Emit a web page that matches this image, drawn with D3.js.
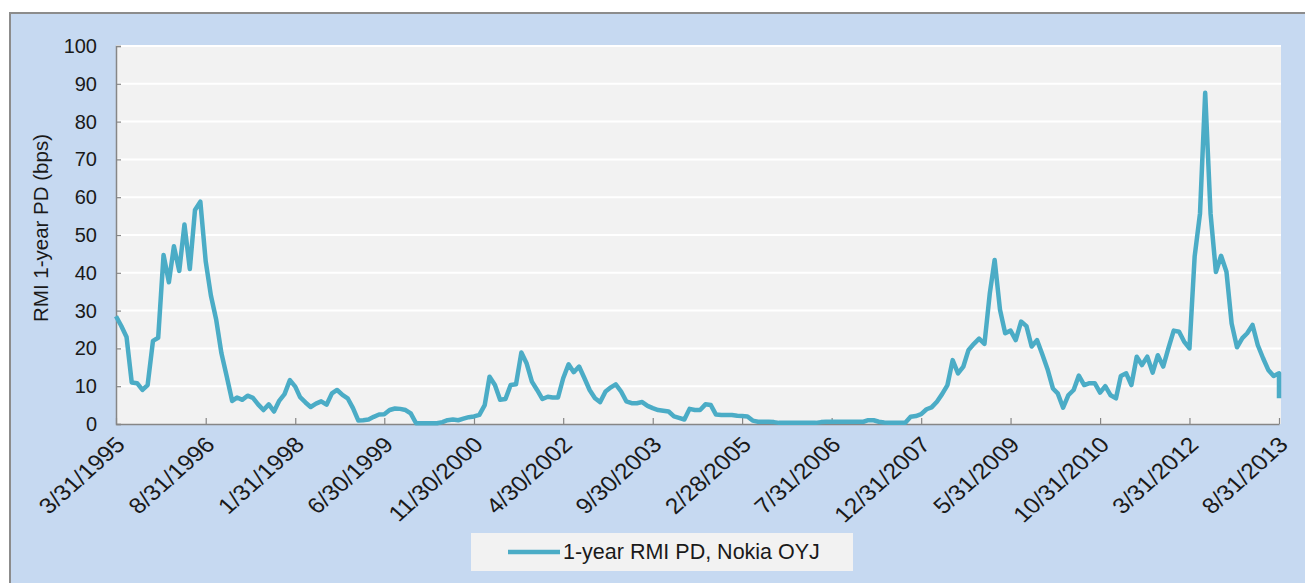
<!DOCTYPE html>
<html>
<head>
<meta charset="utf-8">
<script src="https://cdn.jsdelivr.net/npm/d3@7"></script>
<style>
  body { margin: 0; background: #fff; }
  svg { display: block; font-family: "Liberation Sans", Arial, sans-serif; }
</style>
</head>
<body>
<div id="chart"></div>
<script>
// month-end observations, 3/31/1995 .. 8/31/2013 (the last date appears twice in the source)
const startYear = 1995
const startMonth = 3
const monthCount = 222

// 1-year RMI PD in bps, one per month, plus the final extra observation
const pdValues = [
  28.5, 26, 23, 11, 10.8, 9, 10.3, 22, 22.8, 44.7,
  37.5, 47, 40.5, 52.8, 41, 56.6, 58.8, 43, 34, 27.5,
  18.7, 12.5, 6.1, 7, 6.4, 7.5, 6.9, 5.2, 3.7, 5.2,
  3.3, 6.2, 7.9, 11.6, 9.9, 7.1, 5.7, 4.5, 5.4, 6,
  5.1, 8.1, 9, 7.7, 6.8, 4.2, 0.9, 1, 1.2, 1.9,
  2.5, 2.6, 3.7, 4.1, 4, 3.7, 2.8, 0.2, 0.2, 0.2,
  0.2, 0.2, 0.5, 1, 1.2, 1, 1.4, 1.8, 2, 2.4,
  5, 12.5, 10.3, 6.4, 6.6, 10.3, 10.5, 18.9, 16.1, 11.2,
  9, 6.6, 7.2, 7, 7, 12.1, 15.8, 13.7, 15.2, 12.1,
  9, 6.8, 5.8, 8.6, 9.7, 10.5, 8.6, 6, 5.5, 5.5,
  5.8, 4.8, 4.2, 3.7, 3.5, 3.3, 2, 1.6, 1.2, 4,
  3.7, 3.7, 5.2, 5, 2.5, 2.4, 2.4, 2.4, 2.2, 2.1,
  2, 0.9, 0.6, 0.6, 0.6, 0.5, 0.3, 0.3, 0.3, 0.3,
  0.3, 0.3, 0.3, 0.3, 0.5, 0.6, 0.6, 0.6, 0.6, 0.6,
  0.6, 0.6, 0.6, 1, 1, 0.6, 0.4, 0.3, 0.3, 0.3,
  0.3, 1.9, 2.1, 2.6, 3.9, 4.4, 5.9, 7.9, 10.3, 16.9,
  13.4, 15.2, 19.6, 21.2, 22.6, 21.2, 34.6, 43.4, 30.2, 24,
  24.7, 22.2, 27.1, 25.9, 20.5, 22.2, 18.5, 14.5, 9.4, 8.1,
  4.3, 7.6, 9, 12.8, 10.3, 10.8, 10.8, 8.3, 10, 7.6,
  6.8, 12.7, 13.4, 10.3, 17.8, 15.6, 17.8, 13.6, 18.2, 15.2,
  20, 24.7, 24.4, 21.8, 20, 44.3, 55.7, 87.6, 55.7, 40.2,
  44.5, 40.3, 26.6, 20.3, 22.7, 24, 26.2, 20.9, 17.4, 14.3,
  12.7, 13.4, 6.8
]

const xTickLabels = [
  '3/31/1995', '8/31/1996', '1/31/1998', '6/30/1999', '11/30/2000',
  '4/30/2002', '9/30/2003', '2/28/2005', '7/31/2006', '12/31/2007',
  '5/31/2009', '10/31/2010', '3/31/2012', '8/31/2013'
]
const yTicks = [0, 10, 20, 30, 40, 50, 60, 70, 80, 90, 100]
const seriesName = '1-year RMI PD, Nokia OYJ'
const yTitle = 'RMI 1-year PD (bps)'

// month-end dates; the extra final value sits on the last date
const dates = d3.range(monthCount).map(k => new Date(startYear, startMonth + k, 0))
dates.push(dates[dates.length - 1])
const data = pdValues.map((v, i) => ({ date: dates[i], value: v }))

const parse = d3.timeParse('%m/%d/%Y')
const tickDates = xTickLabels.map(parse)

const W = 1305, H = 583
const plot = { left: 116, right: 1279, top: 46, bottom: 424 }

const svg = d3.select('#chart').append('svg')
  .attr('width', W)
  .attr('height', H)

// chart area background
svg.append('rect')
  .attr('x', 10).attr('y', 13)
  .attr('width', W + 10).attr('height', H + 10)
  .attr('fill', '#c6d9f1')
  .attr('stroke', '#8c8c8c')
  .attr('stroke-width', 2)

// plot area
svg.append('rect')
  .attr('x', plot.left).attr('y', plot.top)
  .attr('width', plot.right - plot.left + 2)
  .attr('height', plot.bottom - plot.top)
  .attr('fill', '#f2f2f2')

const x = d3.scaleTime()
  .domain([tickDates[0], tickDates[tickDates.length - 1]])
  .range([plot.left, plot.right])

const y = d3.scaleLinear()
  .domain([0, 100])
  .range([plot.bottom, plot.top])

// gridlines
svg.append('g')
  .selectAll('line')
  .data(yTicks.filter(d => d > 0))
  .join('line')
    .attr('x1', plot.left).attr('x2', plot.right + 2)
    .attr('y1', d => y(d)).attr('y2', d => y(d))
    .attr('stroke', '#ffffff')
    .attr('stroke-width', 2)

// y axis
const yAxis = svg.append('g')
  .attr('transform', `translate(${plot.left},0)`)
  .call(d3.axisLeft(y).tickValues(yTicks).tickSize(-5).tickPadding(19))
yAxis.select('.domain').attr('stroke', '#868686').attr('stroke-width', 1.5)
yAxis.selectAll('.tick line').attr('stroke', '#868686').attr('stroke-width', 1.2)
yAxis.selectAll('.tick text')
  .attr('font-size', 20)
  .attr('fill', '#1a1a1a')

// x axis
const xAxis = svg.append('g')
  .attr('transform', `translate(0,${plot.bottom})`)
  .call(d3.axisBottom(x)
    .tickValues(tickDates)
    .tickFormat((d, i) => xTickLabels[i])
    .tickSize(-6)
    .tickSizeOuter(0))
xAxis.select('.domain').attr('stroke', '#868686').attr('stroke-width', 1.5)
xAxis.selectAll('.tick line').attr('stroke', '#868686').attr('stroke-width', 1.2)
xAxis.selectAll('.tick text')
  .attr('font-size', 22)
  .attr('fill', '#1a1a1a')
  .attr('text-anchor', 'end')
  .attr('dy', null)
  .attr('y', 0)
  .attr('transform', 'translate(10,22) scale(1.12,1) rotate(-45)')

// y title
svg.append('text')
  .attr('transform', `translate(48,228) rotate(-90)`)
  .attr('text-anchor', 'middle')
  .attr('font-size', 20.5)
  .attr('fill', '#1a1a1a')
  .text(yTitle)

// the series
const line = d3.line()
  .x(d => x(d.date))
  .y(d => y(d.value))

svg.append('path')
  .datum(data)
  .attr('fill', 'none')
  .attr('stroke', '#4bacc6')
  .attr('stroke-width', 4.5)
  .attr('stroke-linejoin', 'round')
  .attr('d', line)

// legend
const legend = svg.append('g').attr('transform', 'translate(471,533)')
legend.append('rect')
  .attr('width', 382).attr('height', 38)
  .attr('fill', '#f2f2f2')
legend.append('line')
  .attr('x1', 37).attr('x2', 89)
  .attr('y1', 19).attr('y2', 19)
  .attr('stroke', '#4bacc6')
  .attr('stroke-width', 4.5)
legend.append('text')
  .attr('x', 92).attr('y', 26)
  .attr('font-size', 21.5)
  .attr('fill', '#1a1a1a')
  .text(seriesName)
</script>
</body>
</html>
